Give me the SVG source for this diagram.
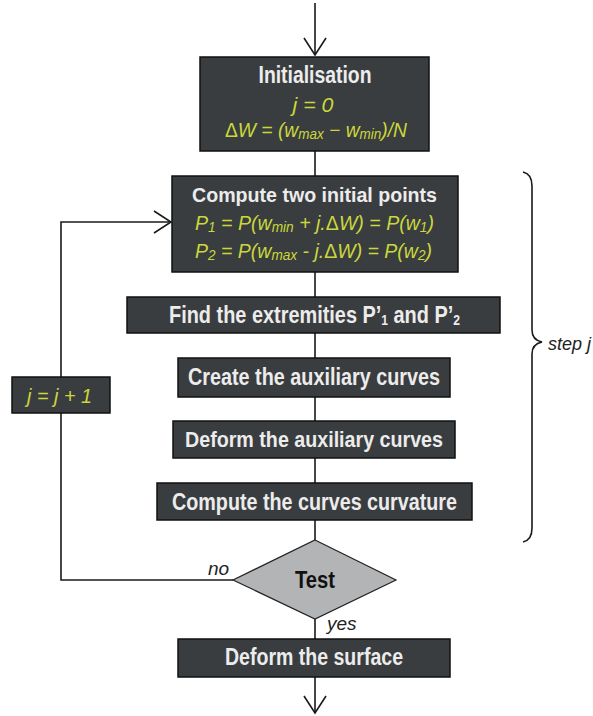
<svg xmlns="http://www.w3.org/2000/svg" width="593" height="716" viewBox="0 0 593 716">
  <style>
    .box { fill: #3a3d3f; stroke: #111; stroke-width: 1.5; }
    .dia { fill: #b3b4b5; stroke: #222; stroke-width: 1.2; }
    .t { font-family: "Liberation Sans", Arial, sans-serif; font-weight: bold; fill: #ececec; text-anchor: middle; }
    .f { font-family: "Liberation Sans", Arial, sans-serif; font-style: italic; fill: #cbd83c; text-anchor: middle; }
    .lbl { font-family: "Liberation Sans", Arial, sans-serif; font-style: italic; fill: #222; }
    .ln { fill: none; stroke: #1a1a1a; stroke-width: 1.6; }
  </style>
  <defs>
    <marker id="arr" markerUnits="userSpaceOnUse" viewBox="0 0 20 24" refX="18" refY="12" markerWidth="20" markerHeight="24" orient="auto">
      <path d="M1,1 L18,12 L1,23" fill="none" stroke="#1a1a1a" stroke-width="1.6"/>
    </marker>
  </defs>
  <rect width="593" height="716" fill="#ffffff"/>

  <g id="connectors">
    <line class="ln" x1="315" y1="3" x2="315" y2="55" marker-end="url(#arr)"/>
    <line class="ln" x1="315" y1="151" x2="315" y2="176"/>
    <line class="ln" x1="315" y1="272" x2="315" y2="297"/>
    <line class="ln" x1="315" y1="333" x2="315" y2="358"/>
    <line class="ln" x1="315" y1="397" x2="315" y2="421"/>
    <line class="ln" x1="315" y1="458" x2="315" y2="483"/>
    <line class="ln" x1="315" y1="520" x2="315" y2="540"/>
    <line class="ln" x1="315" y1="619" x2="315" y2="639"/>
    <line class="ln" x1="315" y1="677" x2="315" y2="713" marker-end="url(#arr)"/>
    <polyline class="ln" points="233,580 61,580 61,413"/>
    <polyline class="ln" points="61,377 61,222 171,222" marker-end="url(#arr)"/>
    <text class="lbl" x="208" y="575" font-size="19">no</text>
    <text class="lbl" x="327" y="630" font-size="19">yes</text>
  </g>

  <g id="init">
    <rect class="box" x="200" y="57" width="229" height="94"/>
    <text class="t" x="315" y="83" font-size="23" textLength="113" lengthAdjust="spacingAndGlyphs">Initialisation</text>
    <text class="f" x="313" y="112" font-size="21" textLength="41" lengthAdjust="spacingAndGlyphs">j = 0</text>
    <text class="f" x="316" y="137" font-size="20" textLength="182" lengthAdjust="spacingAndGlyphs"><tspan font-style="normal">Δ</tspan>W = (w<tspan font-size="14" dy="2">max</tspan><tspan dy="-2"> − w</tspan><tspan font-size="14" dy="2">min</tspan><tspan dy="-2">)/N</tspan></text>
  </g>

  <g id="compute-points">
    <rect class="box" x="172" y="176" width="286" height="96"/>
    <text class="t" x="314.5" y="202" font-size="21" textLength="245" lengthAdjust="spacingAndGlyphs">Compute two initial points</text>
    <text class="f" x="314.5" y="230" font-size="20" textLength="239" lengthAdjust="spacingAndGlyphs">P<tspan font-size="14" dy="2">1</tspan><tspan dy="-2"> = P(w</tspan><tspan font-size="14" dy="2">min</tspan><tspan dy="-2"> + j.</tspan><tspan font-style="normal">Δ</tspan>W) = P(w<tspan font-size="14" dy="2">1</tspan><tspan dy="-2">)</tspan></text>
    <text class="f" x="313.5" y="258" font-size="20" textLength="237" lengthAdjust="spacingAndGlyphs">P<tspan font-size="14" dy="2">2</tspan><tspan dy="-2"> = P(w</tspan><tspan font-size="14" dy="2">max</tspan><tspan dy="-2"> - j.</tspan><tspan font-style="normal">Δ</tspan>W) = P(w<tspan font-size="14" dy="2">2</tspan><tspan dy="-2">)</tspan></text>
  </g>

  <g id="find-extremities">
    <rect class="box" x="127" y="297" width="373" height="36"/>
    <text class="t" x="314.5" y="323" font-size="23" textLength="291" lengthAdjust="spacingAndGlyphs">Find the extremities P’<tspan font-size="14" dy="2">1</tspan><tspan dy="-2"> and P’</tspan><tspan font-size="14" dy="2">2</tspan></text>
  </g>

  <g id="create-curves">
    <rect class="box" x="178" y="358" width="272" height="39"/>
    <text class="t" x="314" y="385" font-size="23" textLength="252" lengthAdjust="spacingAndGlyphs">Create the auxiliary curves</text>
  </g>

  <g id="deform-curves">
    <rect class="box" x="173" y="421" width="282" height="37"/>
    <text class="t" x="314" y="447" font-size="22" textLength="258" lengthAdjust="spacingAndGlyphs">Deform the auxiliary curves</text>
  </g>

  <g id="curvature">
    <rect class="box" x="157" y="483" width="315" height="37"/>
    <text class="t" x="314.5" y="510" font-size="23" textLength="285" lengthAdjust="spacingAndGlyphs">Compute the curves curvature</text>
  </g>

  <g id="test">
    <polygon class="dia" points="315,540 396,580 315,619 233,580"/>
    <text class="t" x="315" y="588" font-size="23" fill="#111" style="fill:#111" textLength="40" lengthAdjust="spacingAndGlyphs">Test</text>
  </g>

  <g id="deform-surface">
    <rect class="box" x="178" y="639" width="272" height="38"/>
    <text class="t" x="314" y="665" font-size="23" textLength="178" lengthAdjust="spacingAndGlyphs">Deform the surface</text>
  </g>

  <g id="increment">
    <rect class="box" x="12" y="377" width="98" height="36"/>
    <text class="f" x="59.5" y="403" font-size="21" textLength="65" lengthAdjust="spacingAndGlyphs">j = j + 1</text>
  </g>

  <g id="step-brace">
    <path class="ln" d="M523,172 Q532,174 532,186 L532,330 Q532,340 542,342 Q532,344 532,354 L532,528 Q532,540 523,542" stroke="#333"/>
    <text class="lbl" x="548" y="350" font-size="18">step j</text>
  </g>
</svg>
